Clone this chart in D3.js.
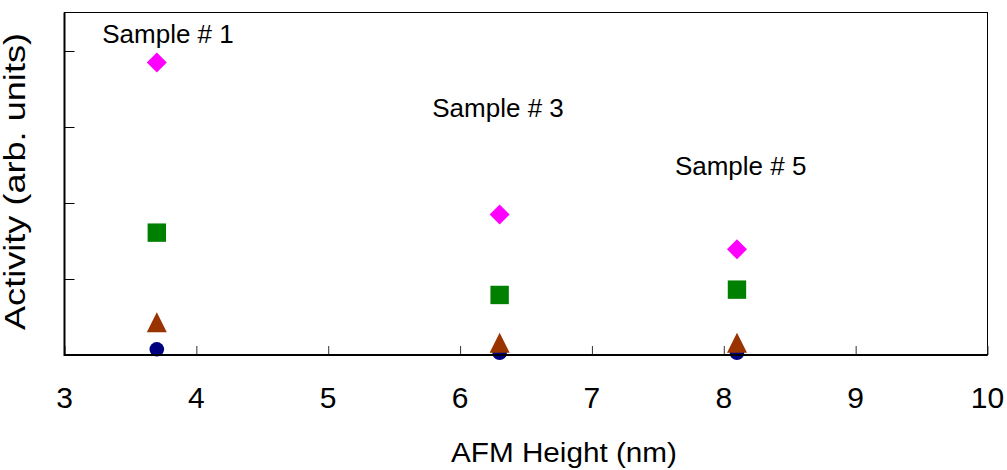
<!DOCTYPE html>
<html>
<head>
<meta charset="utf-8">
<script src="https://cdn.jsdelivr.net/npm/d3@7"></script>
<style>
  body { margin: 0; background: #fff; }
  svg { display: block; font-family: "Liberation Sans", Arial, sans-serif; }
</style>
</head>
<body>
<svg id="chart" width="1007" height="470"></svg>
<script>
// data
var heights = [3.7, 6.3, 8.1];               // AFM height (nm) of each sample
var diamondVals = [3.85, 1.85, 1.39];
var squareVals = [1.61, 0.79, 0.86];
var triangleVals = [0.43, 0.16, 0.16];
var circleVals = [0.075, 0.03, 0.03];
var sampleLabels = ["Sample # 1", "Sample # 3", "Sample # 5"];
var labelX = [3.785, 6.288, 8.128];
var labelY = [4.11, 3.13, 2.37];
var xTicks = [3, 4, 5, 6, 7, 8, 9, 10];
var yTicks = [0, 1, 2, 3, 4];

var svg = d3.select("#chart");
var mLeft = 64.5, mRight = 987.5, mTop = 12.5, mBottom = 355;

var x = d3.scaleLinear().domain([3, 10]).range([mLeft, mRight]);
var y = d3.scaleLinear().domain([0, 4.5]).range([mBottom, mBottom - 4.5 * 76]);

// custom marker shapes, size = half width
var diamond = { draw: function(c, r) { c.moveTo(0, -r); c.lineTo(r, 0); c.lineTo(0, r); c.lineTo(-r, 0); c.closePath(); } };
var square = { draw: function(c, r) { c.rect(-r, -r, 2 * r, 2 * r); } };
var triangle = { draw: function(c, r) { c.moveTo(0, -r); c.lineTo(r, r); c.lineTo(-r, r); c.closePath(); } };

function markers(vals, type, r, color) {
  svg.append("g").selectAll("path")
    .data(vals)
    .join("path")
    .attr("transform", function(d, i) { return "translate(" + x(heights[i]) + "," + y(d) + ")"; })
    .attr("d", d3.symbol().type(type).size(r))
    .attr("fill", color);
}

// circles first, triangles sit on top of them
svg.append("g").selectAll("circle")
  .data(circleVals)
  .join("circle")
  .attr("cx", function(d, i) { return x(heights[i]); })
  .attr("cy", function(d) { return y(d); })
  .attr("r", 7.3)
  .attr("fill", "#000080");
markers(triangleVals, triangle, 10, "#993300");
markers(squareVals, square, 9.2, "#008000");
markers(diamondVals, diamond, 10, "#ff00ff");

// frame
svg.append("rect")
  .attr("x", mLeft).attr("y", mTop)
  .attr("width", mRight - mLeft).attr("height", mBottom - mTop)
  .attr("fill", "none").attr("stroke", "#000").attr("stroke-width", 1);

var xAxis = svg.append("g")
  .attr("transform", "translate(0," + mBottom + ")")
  .call(d3.axisTop(x).tickValues(xTicks).tickSize(9).tickFormat(""));
xAxis.select(".domain").remove();
xAxis.selectAll("line").attr("stroke", "#333");

var yAxis = svg.append("g")
  .attr("transform", "translate(" + mLeft + ",0)")
  .call(d3.axisRight(y).tickValues(yTicks).tickSize(10).tickFormat(""));
yAxis.select(".domain").remove();

svg.append("line").attr("x1", mLeft).attr("x2", mRight).attr("y1", mBottom).attr("y2", mBottom)
  .attr("stroke", "#000").attr("stroke-width", 2);
svg.append("line").attr("x1", mLeft).attr("x2", mLeft).attr("y1", mTop).attr("y2", mBottom + 1)
  .attr("stroke", "#000").attr("stroke-width", 2);

// tick labels
svg.append("g").selectAll("text")
  .data(xTicks)
  .join("text")
  .attr("x", function(d) { return x(d); })
  .attr("y", 408)
  .attr("text-anchor", "middle")
  .attr("font-size", 30)
  .text(function(d) { return d; });

// sample labels
svg.append("g").selectAll("text")
  .data(sampleLabels)
  .join("text")
  .attr("x", function(d, i) { return x(labelX[i]); })
  .attr("y", function(d, i) { return y(labelY[i]); })
  .attr("text-anchor", "middle")
  .attr("font-size", 26)
  .text(function(d) { return d; });

// axis titles
svg.append("text")
  .attr("x", 564).attr("y", 462)
  .attr("text-anchor", "middle")
  .attr("font-size", 27)
  .attr("textLength", 226).attr("lengthAdjust", "spacingAndGlyphs")
  .text("AFM Height (nm)");

svg.append("text")
  .attr("transform", "translate(25,181.5) rotate(-90)")
  .attr("text-anchor", "middle")
  .attr("font-size", 29)
  .attr("textLength", 297).attr("lengthAdjust", "spacingAndGlyphs")
  .text("Activity (arb. units)");
</script>
</body>
</html>
